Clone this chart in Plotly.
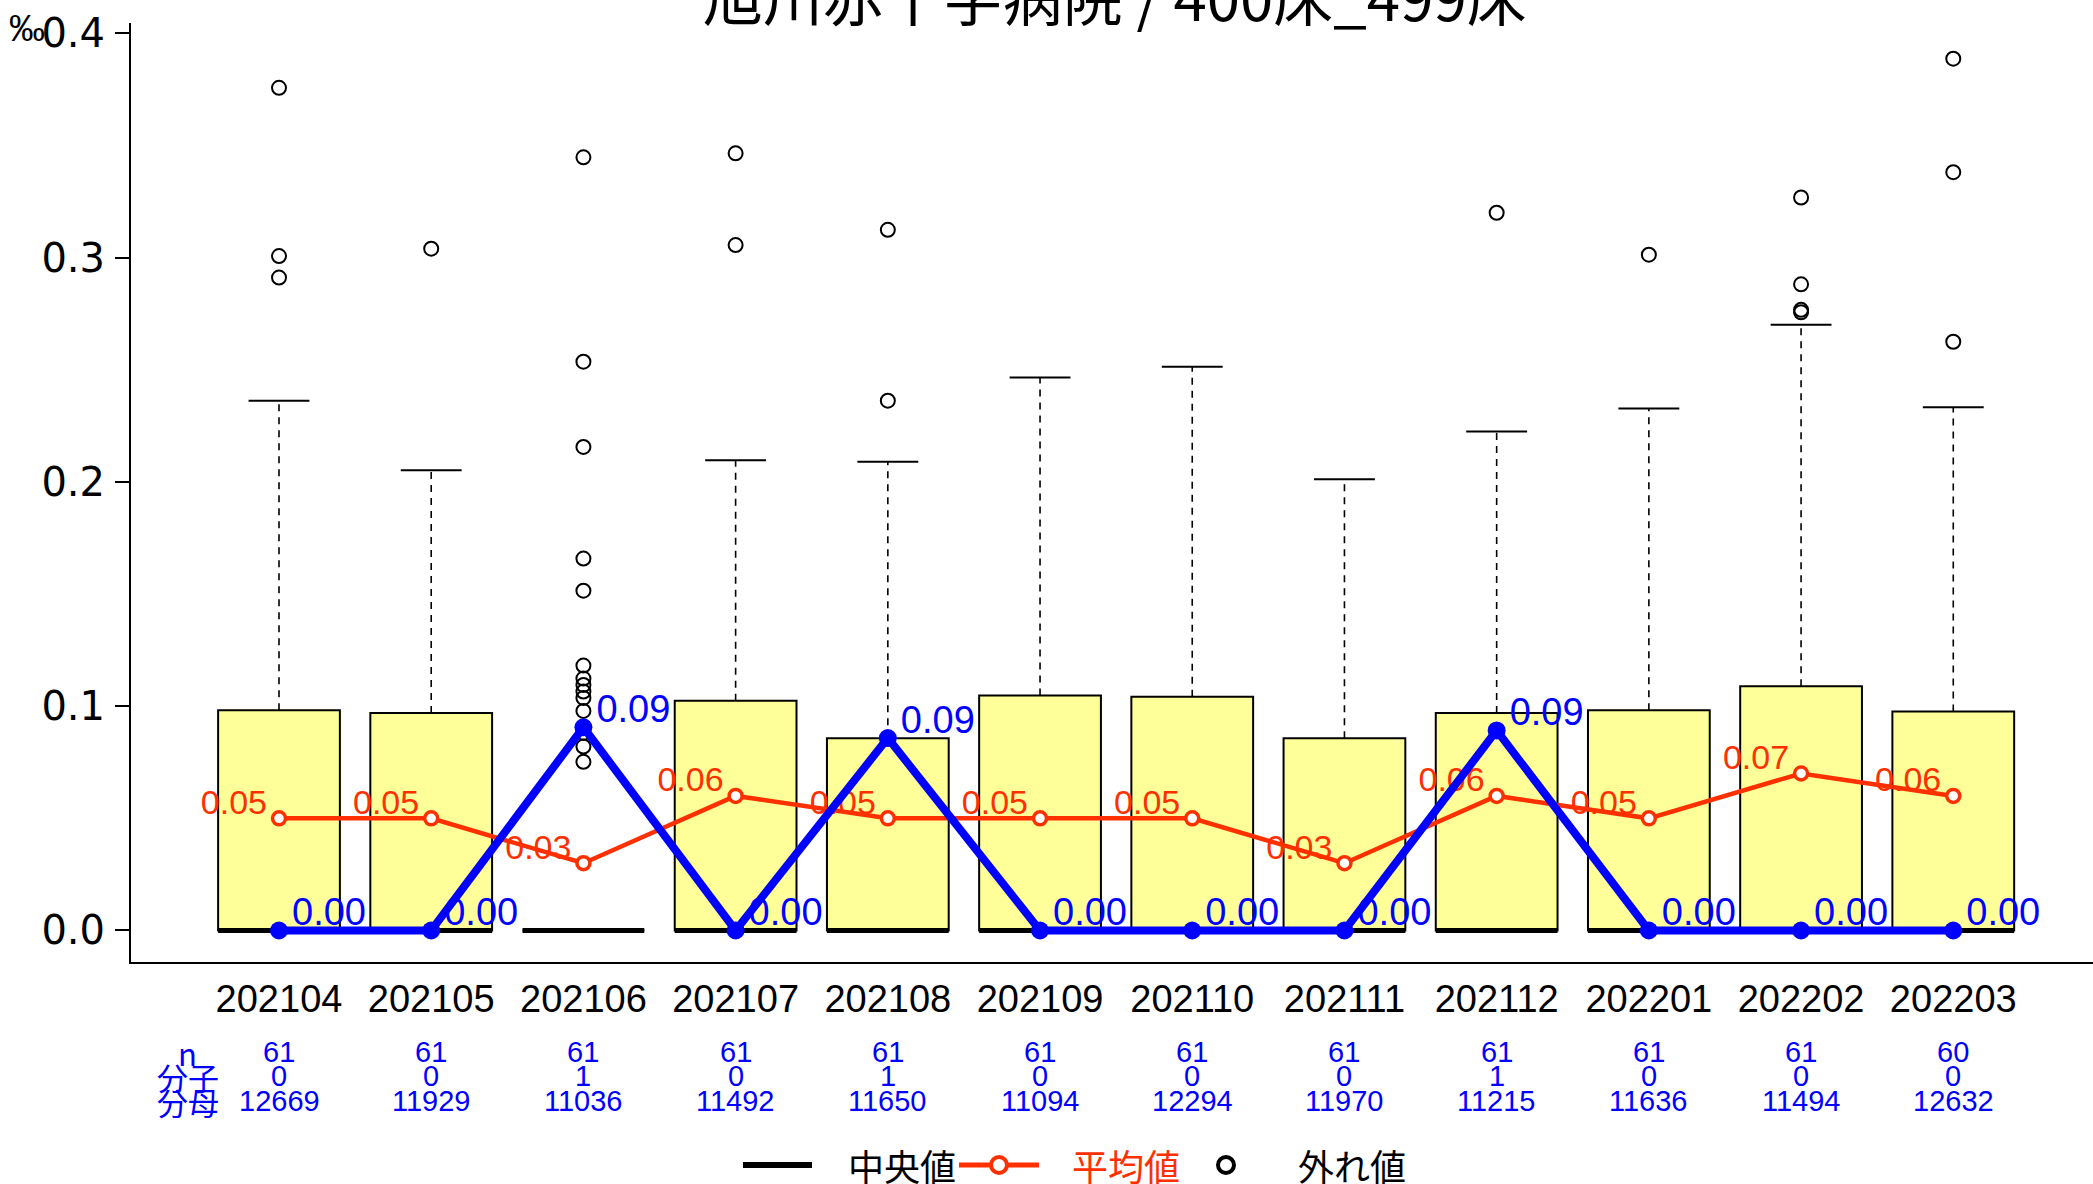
import plotly.graph_objects as go

# --- data ------------------------------------------------------------------
months = ["202104", "202105", "202106", "202107", "202108", "202109",
          "202110", "202111", "202112", "202201", "202202", "202203"]
n_hosp = [61, 61, 61, 61, 61, 61, 61, 61, 61, 61, 61, 60]
numer = [0, 0, 1, 0, 1, 0, 0, 0, 1, 0, 0, 0]
denom = [12669, 11929, 11036, 11492, 11650, 11094, 12294, 11970, 11215, 11636, 11494, 12632]

# this hospital (per mille)
rate = [0.0, 0.0, 0.0906, 0.0, 0.0858, 0.0, 0.0, 0.0, 0.0892, 0.0, 0.0, 0.0]
# all hospitals: box statistics
q1 = [0.0, 0.0, 0.0, 0.0, 0.0, 0.0, 0.0, 0.0, 0.0, 0.0, 0.0, 0.0]
median = [0.0, 0.0, 0.0, 0.0, 0.0, 0.0, 0.0, 0.0, 0.0, 0.0, 0.0, 0.0]
q3 = [0.0982, 0.0970, 0.0, 0.1024, 0.0857, 0.1048, 0.1042, 0.0857, 0.0970, 0.0982, 0.1089, 0.0976]
upper_whisker = [0.2362, 0.2052, 0.0, 0.2097, 0.2090, 0.2466, 0.2513, 0.2012, 0.2225, 0.2327, 0.2701, 0.2333]
mean = [0.050, 0.050, 0.030, 0.060, 0.050, 0.050, 0.050, 0.030, 0.060, 0.050, 0.070, 0.060]
outliers = [
    [0.3757, 0.3007, 0.2911],
    [0.3040],
    [0.3447, 0.2536, 0.2156, 0.1658, 0.1515, 0.1181, 0.1123, 0.1095, 0.1065,
     0.1037, 0.0979, 0.0881, 0.0820, 0.0752],
    [0.3465, 0.3056],
    [0.3124, 0.2362],
    [],
    [],
    [],
    [0.3200],
    [0.3013],
    [0.3268, 0.2881, 0.2767, 0.2756],
    [0.3887, 0.3381, 0.2625],
]

title_text = "旭川赤十字病院 / 400床_499床"
unit_text = "‰"
row_labels = ["n", "分子", "分母"]
legend_labels = ["中央値", "平均値", "外れ値"]

# --- styling -----------------------------------------------------------------
BLUE = "#0000FF"
RED = "#FF3000"
BOX_FILL = "#FFFF99"
BOX_W = 0.8
CAP_W = 0.4
FONT = "Liberation Sans, Noto Sans CJK JP, sans-serif"
CJK = "Noto Sans CJK JP, sans-serif"

W, H = 2093, 1184
M_L, M_R, M_T, M_B = 131, 0, 23, 222
PLOT_W, PLOT_H = W - M_L - M_R, H - M_T - M_B
Y_RANGE = [-0.01405, 0.4046]
X_RANGE = [0.0276, 12.918]
px_per_unit = PLOT_H / (Y_RANGE[1] - Y_RANGE[0])


def px(xp):   # page pixel -> paper x
    return (xp - M_L) / PLOT_W


def py(yp):   # page pixel -> paper y
    return (H - M_B - yp) / PLOT_H


pos = list(range(1, len(months) + 1))

fig = go.Figure()

# boxes (Q1..Q3)
fig.add_trace(go.Bar(
    x=pos, y=[b - a for a, b in zip(q1, q3)], base=q1, width=BOX_W,
    marker=dict(color=BOX_FILL, line=dict(color="black", width=2)),
    showlegend=False, hoverinfo="skip",
))

# whiskers (dashed) and caps
wx, wy, cx, cy = [], [], [], []
for p, top, uw in zip(pos, q3, upper_whisker):
    wx += [p, p, None]
    wy += [top, uw, None]
    cx += [p - CAP_W / 2, p + CAP_W / 2, None]
    cy += [uw, uw, None]
fig.add_trace(go.Scatter(x=wx, y=wy, mode="lines",
                         line=dict(color="black", width=1.6, dash="7px,6px"),
                         showlegend=False, hoverinfo="skip"))
fig.add_trace(go.Scatter(x=cx, y=cy, mode="lines",
                         line=dict(color="black", width=2),
                         showlegend=False, hoverinfo="skip"))

# medians
mx, my = [], []
for p, m in zip(pos, median):
    mx += [p - BOX_W / 2, p + BOX_W / 2, None]
    my += [m, m, None]
fig.add_trace(go.Scatter(x=mx, y=my, mode="lines", name=legend_labels[0],
                         line=dict(color="black", width=5),
                         showlegend=False, hoverinfo="skip"))

# outliers
ox, oy = [], []
for p, vals in zip(pos, outliers):
    ox += [p] * len(vals)
    oy += vals
fig.add_trace(go.Scatter(x=ox, y=oy, mode="markers", name=legend_labels[2],
                         marker=dict(symbol="circle-open", size=14, color="black",
                                     line=dict(width=2)),
                         showlegend=False))

# mean line
fig.add_trace(go.Scatter(x=pos, y=mean, mode="lines+markers", name=legend_labels[1],
                         line=dict(color=RED, width=4.5),
                         marker=dict(size=13, color="white", line=dict(color=RED, width=3.5)),
                         showlegend=False))

# mean labels (under the blue line)
RED_LIFT = 13
fig.add_trace(go.Scatter(
    x=pos, y=[m + RED_LIFT / px_per_unit for m in mean], mode="markers+text",
    text=[f"{m:.2f}" for m in mean], textposition="middle left",
    textfont=dict(color=RED, size=34, family=FONT),
    marker=dict(size=17.6, opacity=0), showlegend=False, hoverinfo="skip"))

# hospital rate labels
BLUE_LIFT = 15
fig.add_trace(go.Scatter(
    x=pos, y=[r + BLUE_LIFT / px_per_unit for r in rate], mode="markers+text",
    text=[f"{r:.2f}" for r in rate], textposition="middle right",
    textfont=dict(color=BLUE, size=38, family=FONT),
    marker=dict(size=19.2, opacity=0), showlegend=False, hoverinfo="skip"))

# hospital line
fig.add_trace(go.Scatter(x=pos, y=rate, mode="lines+markers",
                         line=dict(color=BLUE, width=8),
                         marker=dict(size=18, color=BLUE),
                         showlegend=False, hoverinfo="skip"))

annotations = []
# table below the x axis
row_y = [1052, 1076, 1101]
for r, (lab, ypx) in enumerate(zip(row_labels, row_y)):
    annotations.append(dict(x=0.4, y=py(ypx), xref="x", yref="paper", text=lab,
                            showarrow=False, xanchor="center", yanchor="middle",
                            font=dict(color=BLUE, size=31, family=CJK)))
    vals = [n_hosp, numer, denom][r]
    for p, v in zip(pos, vals):
        annotations.append(dict(x=p, y=py(ypx), xref="x", yref="paper", text=str(v),
                                showarrow=False, xanchor="center", yanchor="middle",
                                font=dict(color=BLUE, size=29, family=FONT)))

# title (cut at the top like the original)
annotations.append(dict(x=px(1115), y=py(-5), xref="paper", yref="paper",
                        text=title_text, showarrow=False,
                        xanchor="center", yanchor="middle",
                        font=dict(size=60, color="black", family=CJK)))
# unit
annotations.append(dict(x=px(27), y=py(28), xref="paper", yref="paper",
                        text=unit_text, showarrow=False,
                        xanchor="center", yanchor="middle",
                        font=dict(size=36, color="black", family=FONT)))

# legend drawn below the table
LEG_Y = 1165
shapes = [
    dict(type="line", xref="paper", yref="paper", x0=px(743), x1=px(812),
         y0=py(LEG_Y), y1=py(LEG_Y), line=dict(color="black", width=6)),
    dict(type="line", xref="paper", yref="paper", x0=px(959), x1=px(1039),
         y0=py(LEG_Y), y1=py(LEG_Y), line=dict(color=RED, width=5)),
    dict(type="circle", xref="paper", yref="paper", x0=px(991), x1=px(1007),
         y0=py(LEG_Y + 8), y1=py(LEG_Y - 8), fillcolor="white",
         line=dict(color=RED, width=4)),
    dict(type="circle", xref="paper", yref="paper", x0=px(1218), x1=px(1234),
         y0=py(LEG_Y + 8), y1=py(LEG_Y - 8), fillcolor="white",
         line=dict(color="black", width=4)),
]
for xs, lab, col in zip([846, 1070, 1296], legend_labels, ["black", RED, "black"]):
    annotations.append(dict(x=px(xs), y=py(LEG_Y), xref="paper", yref="paper",
                            text=lab, showarrow=False, xanchor="left", yanchor="middle",
                            font=dict(size=36, color=col, family=CJK)))

fig.update_layout(
    width=W, height=H,
    margin=dict(l=M_L, r=M_R, t=M_T, b=M_B, autoexpand=False),
    plot_bgcolor="white", paper_bgcolor="white",
    font=dict(family=FONT, color="black"),
    xaxis=dict(range=X_RANGE, tickvals=pos, ticktext=months,
               showline=True, linecolor="black", linewidth=2,
               showgrid=False, zeroline=False, ticks="", automargin=False,
               tickfont=dict(size=38, color="black"), ticklabelstandoff=2),
    yaxis=dict(range=Y_RANGE, tickvals=[0, 0.1, 0.2, 0.3, 0.4],
               ticktext=["0.0", "0.1", "0.2", "0.3", "0.4"],
               showline=True, linecolor="black", linewidth=2, automargin=False,
               ticks="outside", ticklen=14, tickwidth=2, tickcolor="black",
               showgrid=False, zeroline=False,
               tickfont=dict(size=40, color="black", family="DejaVu Sans"),
               ticklabelstandoff=2),
    showlegend=False,
    shapes=shapes,
    annotations=annotations,
)

# the page's default body margin would shift the whole figure by 8px
fig.write_html("out.html", config={"displayModeBar": False},
               post_script="document.body.style.margin='0px';")
